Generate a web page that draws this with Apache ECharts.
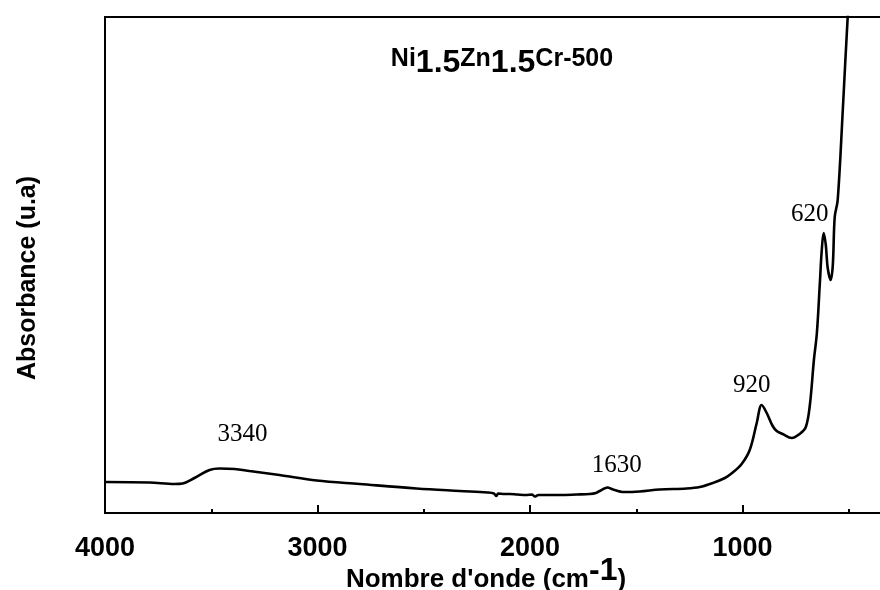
<!DOCTYPE html>
<html>
<head>
<meta charset="utf-8">
<script src="https://cdn.jsdelivr.net/npm/echarts@6/dist/echarts.min.js"></script>
<style>
  html, body { margin: 0; padding: 0; background: #fff; }
  #chart { width: 880px; height: 590px; }
</style>
</head>
<body>
<div id="chart"></div>
<script>
// FTIR spectrum, wavenumber (cm-1) vs absorbance (arbitrary units)
var wavenumber = [4000, 3790, 3673, 3635, 3579, 3508, 3461, 3390, 3320, 3179, 3004, 2802, 2534, 2331,
  2200, 2170, 2158, 2150, 2120, 2096, 2060, 2020, 1990, 1978, 1960, 1900, 1860, 1780, 1719, 1690,
  1672, 1650, 1635, 1615, 1602, 1564, 1484, 1390, 1263, 1201, 1140, 1083, 1046, 1004, 966, 933,
  910, 886, 858, 839, 811, 768, 731, 702, 683, 664, 650, 636, 627, 618, 608, 599, 585, 575, 566,
  552, 528, 505, 495];
var absorbance = [31, 30.5, 29, 29.5, 35, 43, 44.5, 44, 42, 38, 32.5, 29, 24.5, 22,
  20.5, 19.5, 17, 19.5, 19, 19, 18.5, 18, 18.5, 16.5, 18, 18, 18, 18.5, 19, 20,
  22, 24.5, 25.5, 24, 23, 21, 21.5, 23.5, 24.5, 26, 30, 35, 40.5, 49, 63, 90,
  108, 100, 87, 82, 79, 75, 79, 86, 108, 153, 180, 230, 263, 280, 268, 245, 233, 248, 296,
  313, 403, 496, 523];

var peakLabels = ['3340', '1630', '920', '620'];
var peakLabelX = [3353, 1592, 957, 684];
var peakLabelY = [79, 48, 128, 299];

var majorTicks = 1000;
var minorTicks = 500;

var chart = echarts.init(document.getElementById('chart'));

var peakMarks = peakLabels.map(function (t, i) {
  return { coord: [peakLabelX[i], peakLabelY[i]], value: t };
});

chart.setOption({
  animation: false,
  backgroundColor: '#fff',
  grid: {
    left: 105, top: 17, width: 850, height: 496,
    outerBoundsMode: 'none',
    show: true, borderColor: '#000', borderWidth: 2, backgroundColor: 'transparent'
  },
  xAxis: [{
    type: 'value', position: 'bottom', inverse: true,
    min: 0, max: 4000, interval: majorTicks,
    axisLine: { show: true, lineStyle: { color: '#000', width: 2 } },
    axisTick: { show: true, inside: true, length: 8, lineStyle: { color: '#000', width: 2 } },
    axisLabel: {
      margin: 22, color: '#000', fontSize: 27, fontWeight: 'bold',
      fontFamily: 'Liberation Sans, Arial, sans-serif',
      formatter: function (v) { return v === 0 ? '' : String(v); }
    },
    splitLine: { show: false }
  }, {
    type: 'value', position: 'bottom', inverse: true,
    min: 0, max: 4000, interval: minorTicks,
    axisLine: { show: false },
    axisTick: { show: true, inside: true, length: 4, lineStyle: { color: '#000', width: 2 } },
    axisLabel: { show: false },
    splitLine: { show: false }
  }],
  yAxis: {
    type: 'value', min: 0, max: 496,
    axisLine: { show: false }, axisTick: { show: false },
    axisLabel: { show: false }, splitLine: { show: false }
  },
  series: [{
    type: 'line',
    xAxisIndex: 0,
    data: wavenumber.map(function (w, i) { return [w, absorbance[i]]; }),
    showSymbol: false,
    smooth: 0.35,
    clip: true,
    lineStyle: { color: '#000', width: 2.6 },
    markPoint: {
      symbol: 'circle', symbolSize: 0,
      label: {
        show: true, position: 'inside', color: '#000', fontSize: 25,
        fontFamily: 'Liberation Serif, Times New Roman, serif',
        formatter: function (p) { return p.value; }
      },
      data: peakMarks
    }
  }],
  graphic: [{
    type: 'text', x: 502, y: 63,
    style: {
      text: '{a|Ni}{b|1.5}{a|Zn}{b|1.5}{a|Cr-500}',
      align: 'center', verticalAlign: 'middle',
      rich: {
        a: { fontSize: 25, fontWeight: 'bold', fontFamily: 'Liberation Sans', fill: '#000', verticalAlign: 'top', lineHeight: 33 },
        b: { fontSize: 32, fontWeight: 'bold', fontFamily: 'Liberation Sans', fill: '#000', verticalAlign: 'bottom', lineHeight: 33 }
      }
    }
  }, {
    type: 'text', x: 486, y: 574,
    style: {
      text: '{n|Nombre d\'onde (cm}{s|-1}{n|)}',
      align: 'center', verticalAlign: 'middle',
      rich: {
        n: { fontSize: 26, fontWeight: 'bold', fontFamily: 'Liberation Sans', fill: '#000', verticalAlign: 'bottom', lineHeight: 38 },
        s: { fontSize: 32, fontWeight: 'bold', fontFamily: 'Liberation Sans', fill: '#000', verticalAlign: 'top', lineHeight: 38 }
      }
    }
  }, {
    type: 'text', x: 28, y: 278, rotation: Math.PI / 2,
    style: {
      text: 'Absorbance (u.a)', align: 'center', verticalAlign: 'middle',
      fontSize: 25, fontWeight: 'bold', fontFamily: 'Liberation Sans', fill: '#000'
    }
  }]
});
</script>
</body>
</html>
